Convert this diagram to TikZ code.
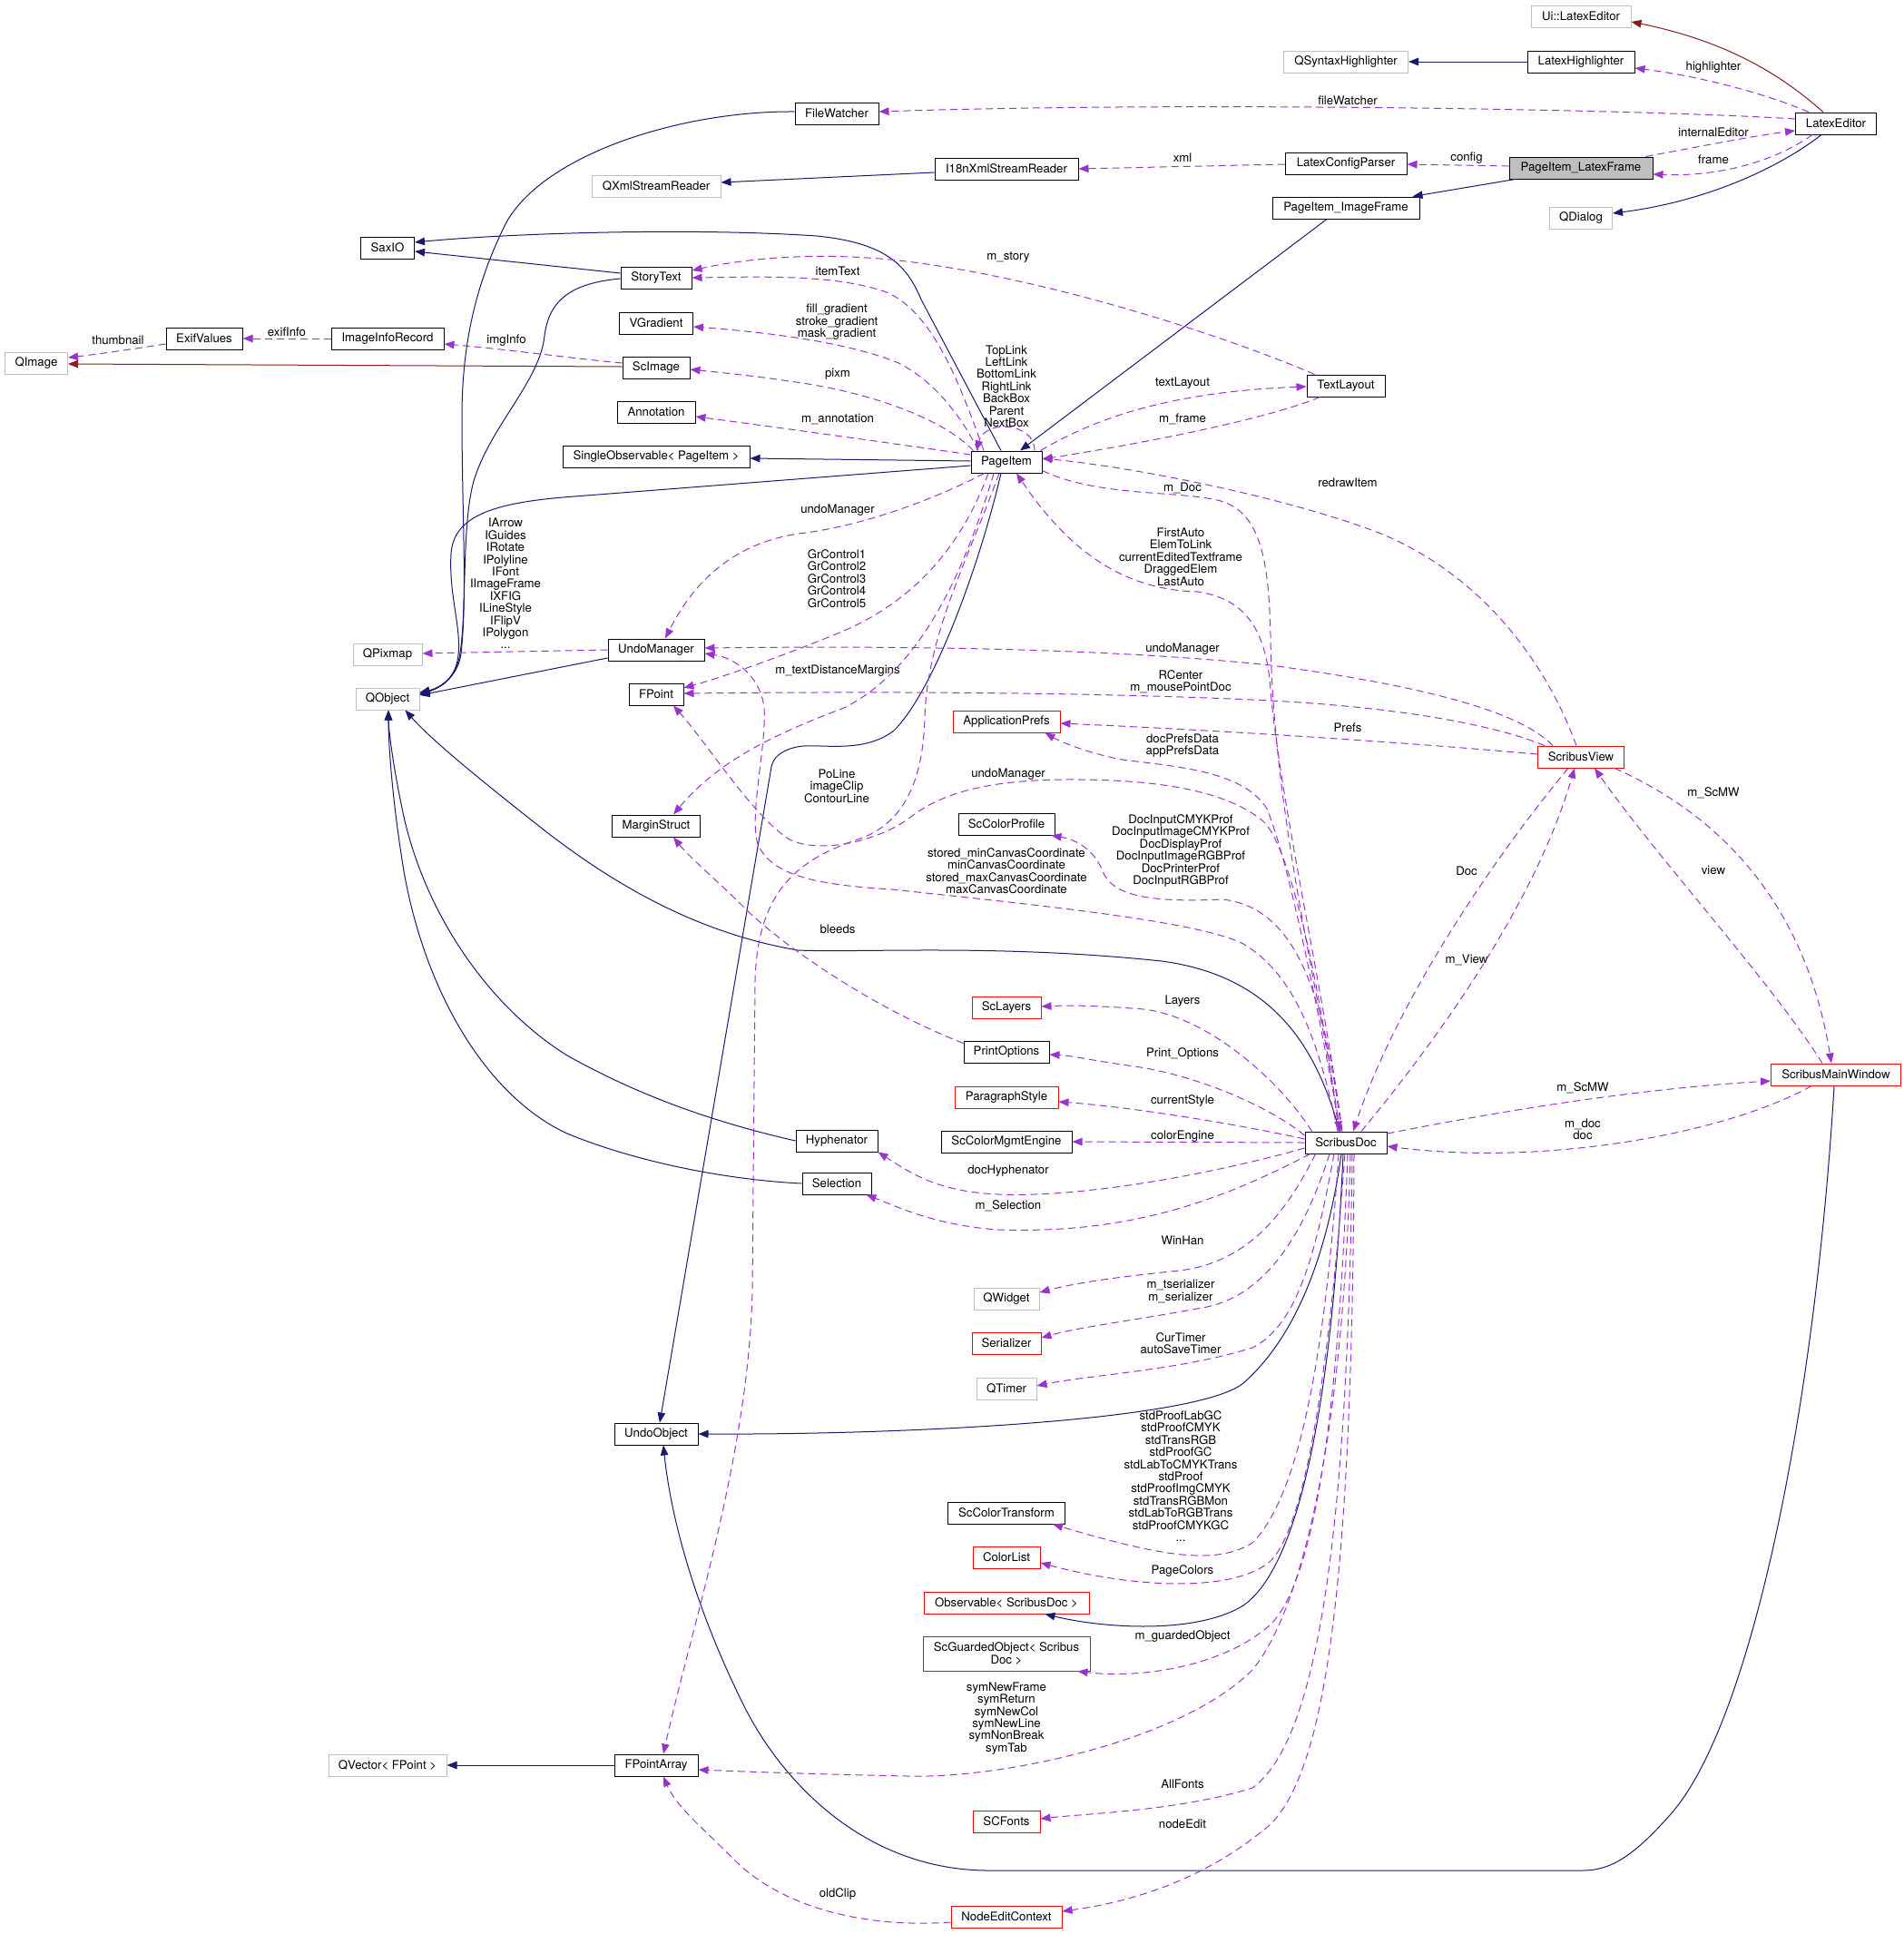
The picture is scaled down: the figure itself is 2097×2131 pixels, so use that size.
\documentclass[tikz,border=0pt]{standalone}
\usepackage{fontspec}
\setmainfont{TeX Gyre Heros}
\usetikzlibrary{arrows.meta,calc}
\definecolor{navy}{HTML}{191970}
\definecolor{orch}{HTML}{9A32CD}
\definecolor{fbrick}{HTML}{8B1A1A}
\definecolor{gry}{HTML}{BFBFBF}
\tikzset{
  cls/.style={draw=black, line width=1pt, minimum height=24pt, inner sep=0pt, fill=white,
    font=\fontsize{13.2}{13.4}\selectfont, align=center},
  ext/.style={cls, draw=gry},
  redc/.style={cls, draw=red},
  lbl/.style={inner sep=0pt, font=\fontsize{13.2}{13.4}\selectfont, align=center},
  tip/.style={-{Triangle[length=11pt,width=8.5pt]}},
  inh/.style={draw=navy, line width=1pt, tip},
  tmpl/.style={draw=fbrick, line width=1pt, tip},
  use/.style={draw=orch, line width=1pt, dash pattern=on 8pt off 5pt, tip}
}
\begin{document}
\begin{tikzpicture}[x=1pt,y=-1pt]
\useasboundingbox (0,0) rectangle (2097,2131);
% ---------------- nodes ----------------
\node[ext, minimum width=110] (uile) at (1742,18) {Ui::LatexEditor};
\node[ext, minimum width=137] (qsh) at (1483,68) {QSyntaxHighlighter};
\node[cls, minimum width=118] (lhl) at (1742,68) {LatexHighlighter};
\node[cls, minimum width=89] (lte) at (2023,136) {LatexEditor};
\node[cls, minimum width=92] (fw) at (922,125) {FileWatcher};
\node[ext, minimum width=142] (qxml) at (723,205) {QXmlStreamReader};
\node[cls, minimum width=158] (i18n) at (1109,186) {I18nXmlStreamReader};
\node[cls, minimum width=134] (lcp) at (1483,180) {LatexConfigParser};
\node[cls, minimum width=158, fill=gry] (plf) at (1742,185) {PageItem\_LatexFrame};
\node[cls, minimum width=162] (pif) at (1483,229) {PageItem\_ImageFrame};
\node[ext, minimum width=69] (qdlg) at (1742,240) {QDialog};
\node[cls, minimum width=59] (saxio) at (427,273) {SaxIO};
\node[cls, minimum width=78] (stext) at (723,306) {StoryText};
\node[cls, minimum width=81] (vgrad) at (723,356) {VGradient};
\node[ext, minimum width=69] (qimg) at (40,400) {QImage};
\node[cls, minimum width=84] (exif) at (225,373) {ExifValues};
\node[cls, minimum width=124] (iir) at (427,373) {ImageInfoRecord};
\node[cls, minimum width=74] (scimg) at (723,405) {ScImage};
\node[cls, minimum width=86] (annot) at (723,454) {Annotation};
\node[cls, minimum width=86] (tlay) at (1483,425) {TextLayout};
\node[cls, minimum width=206] (sobs) at (723,503) {SingleObservable\textless{} PageItem \textgreater};
\node[cls, minimum width=78] (pitem) at (1109,509) {PageItem};
\node[ext, minimum width=76] (qpix) at (427,721) {QPixmap};
\node[cls, minimum width=106] (umgr) at (723,716) {UndoManager};
\node[ext, minimum width=70] (qobj) at (427,770) {QObject};
\node[cls, minimum width=60] (fpoint) at (723,765) {FPoint};
\node[redc, minimum width=118] (aprefs) at (1109,795) {ApplicationPrefs};
\node[redc, minimum width=95] (sview) at (1742,834) {ScribusView};
\node[cls, minimum width=97] (mstruct) at (723,910) {MarginStruct};
\node[cls, minimum width=106] (sccp) at (1109,908) {ScColorProfile};
\node[redc, minimum width=76] (sclay) at (1109,1110) {ScLayers};
\node[cls, minimum width=94] (popt) at (1109,1159) {PrintOptions};
\node[redc, minimum width=143] (smw) at (2023,1184) {ScribusMainWindow};
\node[redc, minimum width=114] (pstyle) at (1109,1209) {ParagraphStyle};
\node[cls, minimum width=90] (hyph) at (922,1257) {Hyphenator};
\node[cls, minimum width=144] (sccme) at (1109,1258) {ScColorMgmtEngine};
\node[cls, minimum width=90] (sdoc) at (1483,1259) {ScribusDoc};
\node[cls, minimum width=76] (sel) at (922,1304) {Selection};
\node[ext, minimum width=72] (qwid) at (1109,1431) {QWidget};
\node[redc, minimum width=76] (ser) at (1109,1480) {Serializer};
\node[ext, minimum width=66] (qtim) at (1109,1530) {QTimer};
\node[cls, minimum width=92] (uobj) at (723,1580) {UndoObject};
\node[cls, minimum width=129] (scct) at (1109,1667) {ScColorTransform};
\node[redc, minimum width=74] (clist) at (1109,1716) {ColorList};
\node[redc, minimum width=182] (obs) at (1109,1766) {Observable\textless{} ScribusDoc \textgreater};
\node[redc, minimum width=184, minimum height=38] (sgo) at (1109,1822) {ScGuardedObject\textless{} Scribus\\Doc \textgreater};
\node[ext, minimum width=130] (qvec) at (427,1945) {QVector\textless{} FPoint \textgreater};
\node[cls, minimum width=92] (fpa) at (723,1945) {FPointArray};
\node[redc, minimum width=74] (scf) at (1109,2007) {SCFonts};
\node[redc, minimum width=122] (nec) at (1109,2112) {NodeEditContext};
% ---------------- labels ----------------
\node[lbl] (l1) at (130,375) {thumbnail};
\node[lbl] (l2) at (316,366) {exifInfo};
\node[lbl] (l3) at (558,375) {imgInfo};
\node[lbl] (l4) at (1888,74) {highlighter};
\node[lbl] (l5) at (1485,111) {fileWatcher};
\node[lbl] (l6) at (1888,146) {internalEditor};
\node[lbl] (l7) at (1888,176) {frame};
\node[lbl] (l8) at (1616,174) {config};
\node[lbl] (l9) at (1303,174) {xml};
\node[lbl] (l10) at (1111,284) {m\_story};
\node[lbl] (l11) at (923,299) {itemText};
\node[lbl] (l12) at (922,355) {fill\_gradient\\stroke\_gradient\\mask\_gradient};
\node[lbl] (l13) at (923,412) {pixm};
\node[lbl] (l14) at (923,462) {m\_annotation};
\node[lbl] (l15) at (1109,425.5) {TopLink\\LeftLink\\BottomLink\\RightLink\\BackBox\\Parent\\NextBox};
\node[lbl] (l16) at (1303,422) {textLayout};
\node[lbl] (l17) at (1303,462) {m\_frame};
\node[lbl] (l18) at (1485,532) {redrawItem};
\node[lbl] (l19) at (1303,538) {m\_Doc};
\node[lbl] (l20) at (923,562) {undoManager};
\node[lbl] (l21) at (1301,613.5) {FirstAuto\\ElemToLink\\currentEditedTextframe\\DraggedElem\\LastAuto};
\node[lbl] (l22) at (922,637.5) {GrControl1\\GrControl2\\GrControl3\\GrControl4\\GrControl5};
\node[lbl] (l23) at (557,643) {IArrow\\IGuides\\IRotate\\IPolyline\\IFont\\IImageFrame\\IXFIG\\ILineStyle\\IFlipV\\IPolygon\\...};
\node[lbl] (l24) at (1303,715) {undoManager};
\node[lbl] (l25) at (923,739) {m\_textDistanceMargins};
\node[lbl] (l26) at (1301,751) {RCenter\\m\_mousePointDoc};
\node[lbl] (l27) at (1485,802) {Prefs};
\node[lbl] (l28) at (1303,821.5) {docPrefsData\\appPrefsData};
\node[lbl] (l29) at (922,866) {PoLine\\imageClip\\ContourLine};
\node[lbl] (l30) at (1111,853) {undoManager};
\node[lbl] (l31) at (1888,874) {m\_ScMW};
\node[lbl] (l32) at (1301,937.5) {DocInputCMYKProf\\DocInputImageCMYKProf\\DocDisplayProf\\DocInputImageRGBProf\\DocPrinterProf\\DocInputRGBProf};
\node[lbl] (l33) at (1109,959.5) {stored\_minCanvasCoordinate\\minCanvasCoordinate\\stored\_maxCanvasCoordinate\\maxCanvasCoordinate};
\node[lbl] (l34) at (1616,960) {Doc};
\node[lbl] (l35) at (1888,959) {view};
\node[lbl] (l36) at (923,1024) {bleeds};
\node[lbl] (l37) at (1616,1058) {m\_View};
\node[lbl] (l38) at (1303,1103) {Layers};
\node[lbl] (l39) at (1303,1161) {Print\_Options};
\node[lbl] (l40) at (1744,1199) {m\_ScMW};
\node[lbl] (l41) at (1303,1213) {currentStyle};
\node[lbl] (l42) at (1744,1244.5) {m\_doc\\doc};
\node[lbl] (l43) at (1303,1252) {colorEngine};
\node[lbl] (l44) at (1111,1290) {docHyphenator};
\node[lbl] (l45) at (1111,1329) {m\_Selection};
\node[lbl] (l46) at (1303,1367) {WinHan};
\node[lbl] (l47) at (1301,1423) {m\_tserializer\\m\_serializer};
\node[lbl] (l48) at (1301,1480) {CurTimer\\autoSaveTimer};
\node[lbl] (l49) at (1301,1626.5) {stdProofLabGC\\stdProofCMYK\\stdTransRGB\\stdProofGC\\stdLabToCMYKTrans\\stdProof\\stdProofImgCMYK\\stdTransRGBMon\\stdLabToRGBTrans\\stdProofCMYKGC\\...};
\node[lbl] (l50) at (1303,1731) {PageColors};
\node[lbl] (l51) at (1303,1803) {m\_guardedObject};
\node[lbl] (l52) at (1109,1893.5) {symNewFrame\\symReturn\\symNewCol\\symNewLine\\symNonBreak\\symTab};
\node[lbl] (l53) at (1303,1966) {AllFonts};
\node[lbl] (l54) at (1303,2010) {nodeEdit};
\node[lbl] (l55) at (923,2087) {oldClip};
% ---------------- inheritance / template edges ----------------
\draw[inh] (lhl.west) -- (qsh.east);
\draw[inh] ($(i18n.west)+(0,4)$) -- ($(qxml.east)+(0,-4)$);
\draw[inh] (fpa.west) -- (qvec.east);
\draw[inh] ($(fw.west)+(0,-2)$) .. controls (750,122) and (600,170) .. (558,245) .. controls (520,320) and (509,390) .. (509,460) .. controls (509,560) and (515,660) .. (508,720) .. controls (505,745) and (485,758) .. ($(qobj.east)+(0,-7)$);
\draw[inh] ($(stext.west)+(0,-5)$) -- ($(saxio.east)+(0,4)$);
\draw[inh] ($(pitem.north)+(-6,0)$) -- (1015,330) .. controls (1000,295) and (980,268) .. (900,260) .. controls (750,250) and (550,258) .. ($(saxio.east)+(0,-6)$);
\draw[inh] ($(stext.west)+(0,1)$) .. controls (630,312) and (605,330) .. (600,370) .. controls (595,420) and (540,470) .. (522,530) .. controls (508,580) and (515,680) .. (506,725) .. controls (500,750) and (485,758) .. ($(qobj.east)+(0,-6)$);
\draw[inh] ($(pitem.west)+(0,4)$) -- (620,548) .. controls (540,555) and (500,570) .. (497,610) .. controls (494,660) and (512,700) .. (503,732) .. controls (498,750) and (482,759) .. ($(qobj.east)+(0,-5)$);
\draw[inh] ($(umgr.west)+(0,9)$) -- ($(qobj.east)+(0,-4)$);
\draw[inh] ($(pitem.west)+(0,-1)$) -- ($(sobs.east)+(0,2)$);
\draw[inh] ($(pif.south)+(-21,0)$) -- ($(pitem.north)+(15,0)$);
\draw[inh] ($(plf.south west)+(7,0)$) -- ($(pif.north east)+(-8,0)$);
\draw[inh] ($(lte.south)+(-16,0)$) .. controls (1960,185) and (1880,222) .. ($(qdlg.east)+(0,-5)$);
\draw[tmpl] ($(lte.north)+(-14,0)$) .. controls (1960,80) and (1900,45) .. ($(uile.east)+(0,6)$);
\draw[tmpl] ($(scimg.west)+(0,-1)$) -- ($(qimg.east)+(0,1)$);
\draw[inh] ($(pitem.south)+(-6,0)$) .. controls (1080,620) and (1030,760) .. (985,805) .. controls (950,832) and (900,818) .. (878,823) .. controls (860,827) and (852,835) .. (850,845) -- ($(uobj.north)+(4,0)$);
\draw[inh] ($(sdoc.south)+(-5,0)$) .. controls (1460,1400) and (1420,1480) .. (1370,1524) .. controls (1320,1565) and (1000,1581) .. (uobj.east);
\draw[inh] ($(sdoc.north)+(-7,0)$) .. controls (1450,1150) and (1400,1075) .. (1280,1059) .. controls (1100,1040) and (950,1050) .. (879,1047) .. controls (780,1030) and (690,985) .. (600,915) .. controls (530,860) and (475,815) .. ($(qobj.south east)+(-16,0)$);
\draw[inh] (hyph.west) .. controls (780,1235) and (700,1205) .. (625,1163) .. controls (540,1110) and (470,1010) .. (445,900) .. controls (432,840) and (428,800) .. ($(qobj.south)+(1,0)$);
\draw[inh] (sel.west) .. controls (800,1300) and (700,1280) .. (625,1249) .. controls (540,1210) and (470,1100) .. (445,960) .. controls (432,880) and (428,820) .. ($(qobj.south)+(1,0)$);
\draw[inh] ($(sdoc.south)+(-3,0)$) .. controls (1470,1500) and (1440,1720) .. (1370,1769) .. controls (1320,1800) and (1220,1795) .. ($(obs.south east)+(-49,0)$);
\draw[inh] ($(smw.south)+(-2,0)$) .. controls (2000,1550) and (1930,1900) .. (1840,2000) .. controls (1800,2045) and (1775,2061) .. (1744,2061) -- (1088,2061) .. controls (950,2060) and (860,1960) .. (820,1880) .. controls (770,1780) and (740,1680) .. ($(uobj.south)+(8,0)$);
% ---------------- usage edges ----------------
\draw[use] ($(exif.west)+(0,6)$) .. controls (150,384) and (110,390) .. ($(qimg.east)+(0,-6)$);
\draw[use] (iir.west) -- (exif.east);
\draw[use] ($(scimg.west)+(0,-5)$) .. controls (640,396) and (560,385) .. ($(iir.east)+(0,6)$);
\draw[use] ($(lte.north)+(-30,0)$) .. controls (1950,105) and (1880,85) .. ($(lhl.east)+(0,7)$);
\draw[use] ($(lte.west)+(0,-5)$) .. controls (1800,120) and (1300,112) .. ($(fw.east)+(0,-2)$);
\draw[use] ($(plf.north east)+(-8,0)$) .. controls (1870,162) and (1930,150) .. ($(lte.west)+(0,8)$);
\draw[use] ($(lte.south)+(-26,0)$) .. controls (1960,175) and (1900,195) .. ($(plf.east)+(0,7)$);
\draw[use] ($(plf.west)+(0,-2)$) -- ($(lcp.east)+(0,1)$);
\draw[use] ($(lcp.west)+(0,1)$) -- (i18n.east);
\draw[use] ($(tlay.north west)+(9,0)$) .. controls (1350,370) and (1150,305) .. (990,287) .. controls (900,277) and (820,285) .. ($(stext.east)+(0,-8)$);
\draw[use] ($(pitem.north)+(-25,0)$) .. controls (1060,430) and (1030,345) .. (977,322) .. controls (920,302) and (840,305) .. (stext.east);
\draw[use] ($(pitem.north)+(-31,0)$) .. controls (1060,460) and (1030,420) .. (990,400) .. controls (930,375) and (830,365) .. ($(vgrad.east)+(0,4)$);
\draw[use] ($(pitem.north west)+(3,0)$) .. controls (1040,462) and (960,432) .. (870,420) .. controls (830,414) and (790,410) .. ($(scimg.east)+(0,2)$);
\draw[use] ($(pitem.west)+(0,-8)$) .. controls (980,488) and (850,470) .. ($(annot.east)+(0,5)$);
\draw[use] ($(pitem.north)+(31,0)$) .. controls (1140,465) and (1085,462) .. ($(pitem.north)+(-33,0)$);
\draw[use] ($(pitem.north east)+(-2,0)$) .. controls (1200,465) and (1280,432) .. ($(tlay.west)+(0,1)$);
\draw[use] ($(tlay.south west)+(15,0)$) .. controls (1400,460) and (1280,485) .. ($(pitem.east)+(0,-3)$);
\draw[use] ($(pitem.south east)+(0,-3)$) .. controls (1210,548) and (1300,540) .. (1345,552) .. controls (1390,565) and (1398,620) .. (1400,700) .. controls (1402,900) and (1460,1120) .. ($(sdoc.north)+(-7,0)$);
\draw[use] ($(sdoc.north)+(-4,0)$) .. controls (1460,1100) and (1410,880) .. (1400,760) .. controls (1395,690) and (1370,660) .. (1320,652) .. controls (1240,650) and (1180,610) .. ($(pitem.south)+(11,0)$);
\draw[use] ($(sview.north)+(-5,0)$) .. controls (1700,720) and (1620,620) .. (1500,580) .. controls (1400,545) and (1250,515) .. ($(pitem.east)+(0,-4)$);
\draw[use] ($(pitem.south west)+(15,0)$) .. controls (1030,550) and (950,580) .. (880,588) .. controls (800,600) and (760,650) .. ($(umgr.north)+(10,0)$);
\draw[use] ($(sview.north west)+(17,0)$) .. controls (1680,790) and (1600,760) .. (1400,733) .. controls (1200,712) and (950,712) .. ($(umgr.east)+(0,-2)$);
\draw[use] ($(pitem.south)+(-20,0)$) .. controls (1060,600) and (1010,660) .. (930,695) .. controls (870,720) and (800,745) .. ($(fpoint.east)+(0,-7)$);
\draw[use] ($(sview.north west)+(8,0)$) .. controls (1650,800) and (1550,780) .. (1400,772) .. controls (1200,762) and (950,762) .. ($(fpoint.east)+(0,-1)$);
\draw[use] ($(pitem.south)+(-14,0)$) .. controls (1060,640) and (1010,740) .. (930,780) .. controls (850,810) and (790,840) .. ($(mstruct.north)+(19,0)$);
\draw[use] ($(popt.north west)+(0,3)$) .. controls (960,1110) and (860,1040) .. (820,1000) .. controls (790,970) and (760,945) .. ($(mstruct.south)+(19,0)$);
\draw[use] (umgr.west) -- ($(qpix.east)+(0,-1)$);
\draw[use] ($(sdoc.north)+(-9,0)$) .. controls (1450,1130) and (1420,1070) .. (1370,1040) .. controls (1320,1015) and (1150,998) .. (983,980) .. controls (900,975) and (850,965) .. (835,930) .. controls (825,900) and (845,820) .. (842,780) .. controls (838,745) and (810,725) .. ($(umgr.east)+(0,4)$);
\draw[use] ($(sdoc.north)+(-8,0)$) .. controls (1455,1080) and (1420,930) .. (1392,905) .. controls (1360,878) and (1300,860) .. (1191,859) .. controls (1100,858) and (1040,870) .. (1000,903) .. controls (960,930) and (900,940) .. (870,925) .. controls (830,900) and (780,820) .. ($(fpoint.south)+(19,0)$);
\draw[use] ($(pitem.south)+(-8,0)$) .. controls (1065,620) and (1022,700) .. (1019,790) .. controls (1017,870) and (990,910) .. (945,925) .. controls (870,950) and (835,990) .. (832,1080) -- (829,1420) .. controls (826,1600) and (760,1800) .. ($(fpa.north)+(8,0)$);
\draw[use] ($(sdoc.north)+(-6,0)$) .. controls (1450,1100) and (1420,950) .. (1396,891) .. controls (1370,850) and (1300,845) .. (1236,837) .. controls (1200,830) and (1170,818) .. ($(aprefs.south east)+(-17,0)$);
\draw[use] ($(sview.west)+(0,-3)$) .. controls (1550,818) and (1350,805) .. ($(aprefs.east)+(0,2)$);
\draw[use] ($(sdoc.north)+(-5,0)$) .. controls (1460,1100) and (1430,1000) .. (1347,991) .. controls (1260,995) and (1225,985) .. (1215,960) .. controls (1205,935) and (1185,925) .. ($(sccp.south east)+(-4,0)$);
\draw[use] ($(sdoc.north west)+(8,0)$) .. controls (1410,1190) and (1330,1120) .. (1260,1112) .. controls (1200,1107) and (1170,1108) .. ($(sclay.east)+(0,-1)$);
\draw[use] ($(sdoc.west)+(0,-8)$) .. controls (1400,1220) and (1320,1185) .. (1250,1175) .. controls (1200,1168) and (1180,1163) .. ($(popt.east)+(0,3)$);
\draw[use] ($(sdoc.west)+(0,-4)$) .. controls (1370,1240) and (1250,1220) .. ($(pstyle.east)+(0,5)$);
\draw[use] (sdoc.west) -- (sccme.east);
\draw[use] ($(sdoc.west)+(0,6)$) .. controls (1350,1290) and (1200,1320) .. (1100,1316) .. controls (1030,1313) and (1000,1290) .. (hyph.south east);
\draw[use] ($(sdoc.south west)+(6,0)$) .. controls (1350,1320) and (1250,1360) .. (1100,1355) .. controls (1030,1350) and (990,1330) .. ($(sel.south east)+(-6,0)$);
\draw[use] ($(sdoc.south west)+(12,0)$) .. controls (1420,1330) and (1380,1390) .. (1300,1400) .. controls (1220,1408) and (1180,1415) .. ($(qwid.east)+(0,-7)$);
\draw[use] ($(sdoc.south)+(-18,0)$) .. controls (1440,1350) and (1400,1425) .. (1330,1440) .. controls (1250,1455) and (1190,1462) .. ($(ser.east)+(0,-6)$);
\draw[use] ($(sdoc.south)+(-13,0)$) .. controls (1450,1380) and (1430,1460) .. (1380,1485) .. controls (1300,1510) and (1200,1515) .. ($(qtim.east)+(0,-3)$);
\draw[use] ($(sdoc.south)+(-8,0)$) .. controls (1460,1500) and (1430,1650) .. (1380,1700) .. controls (1340,1725) and (1280,1715) .. ($(scct.south east)+(-14,0)$);
\draw[use] ($(sdoc.south)+(-1,0)$) .. controls (1465,1500) and (1440,1680) .. (1400,1720) .. controls (1360,1755) and (1250,1750) .. ($(clist.east)+(0,6)$);
\draw[use] ($(sdoc.south)+(2,0)$) .. controls (1475,1550) and (1450,1740) .. (1400,1790) .. controls (1350,1835) and (1260,1850) .. ($(sgo.south east)+(-14,0)$);
\draw[use] ($(sdoc.south)+(5,0)$) .. controls (1480,1600) and (1430,1780) .. (1380,1840) .. controls (1300,1920) and (1100,1960) .. (1000,1957) .. controls (900,1955) and (820,1952) .. ($(fpa.east)+(0,5)$);
\draw[use] ($(sdoc.south)+(7,0)$) .. controls (1485,1700) and (1450,1920) .. (1380,1970) .. controls (1300,1995) and (1200,1998) .. ($(scf.east)+(0,-3)$);
\draw[use] ($(sdoc.south)+(9,0)$) .. controls (1490,1750) and (1460,1950) .. (1400,2010) .. controls (1330,2070) and (1250,2095) .. ($(nec.east)+(0,-6)$);
\draw[use] ($(nec.west)+(0,6)$) .. controls (950,2125) and (860,2100) .. (810,2050) .. controls (770,2010) and (745,1990) .. ($(fpa.south)+(8,0)$);
\draw[use] ($(sview.south)+(-14,0)$) .. controls (1650,940) and (1540,1100) .. ($(sdoc.north)+(8,0)$);
\draw[use] ($(sdoc.north)+(17,0)$) .. controls (1580,1150) and (1690,1000) .. ($(sview.south)+(-7,0)$);
\draw[use] ($(sview.south east)+(-11,0)$) .. controls (1900,900) and (1990,1000) .. ($(smw.north)+(-5,0)$);
\draw[use] ($(smw.north)+(-15,0)$) .. controls (1950,1080) and (1830,950) .. ($(sview.south)+(15,0)$);
\draw[use] ($(sdoc.east)+(0,-10)$) .. controls (1650,1225) and (1800,1200) .. ($(smw.west)+(0,7)$);
\draw[use] ($(smw.south west)+(45,0)$) .. controls (1900,1250) and (1700,1285) .. ($(sdoc.east)+(0,4)$);
\end{tikzpicture}
\end{document}
